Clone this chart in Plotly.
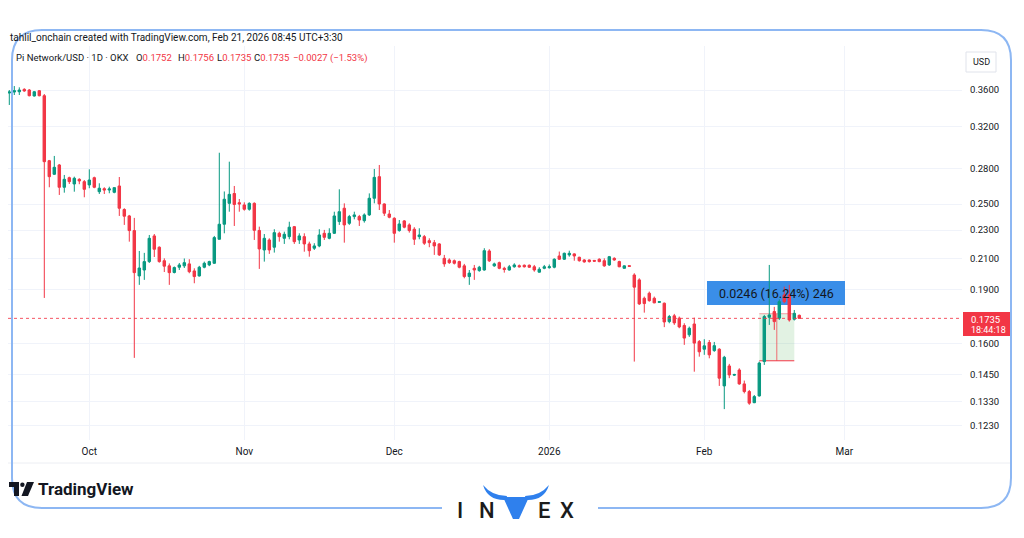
import math
import pandas as pd
import plotly.graph_objects as go

# ---------------- data ----------------
start_date = "2025-09-15"
open_ = [0.3566, 0.3577, 0.3580, 0.3608, 0.3600, 0.3532, 0.3592, 0.3535, 0.2872, 0.2750,
         0.2833, 0.2638, 0.2720, 0.2666, 0.2706, 0.2686, 0.2658, 0.2720, 0.2601, 0.2626,
         0.2615, 0.2596, 0.2649, 0.2457, 0.2407, 0.2297, 0.1987, 0.2025, 0.2080, 0.2258,
         0.2178, 0.2086, 0.2052, 0.2009, 0.2043, 0.2052, 0.2065, 0.2019, 0.1987, 0.2043,
         0.2058, 0.2069, 0.2234, 0.2344, 0.2506, 0.2586, 0.2511, 0.2493, 0.2459, 0.2506,
         0.2298, 0.2159, 0.2229, 0.2178, 0.2277, 0.2241, 0.2253, 0.2326, 0.2229, 0.2253,
         0.2201, 0.2171, 0.2187, 0.2277, 0.2241, 0.2277, 0.2364, 0.2467, 0.2351, 0.2402,
         0.2402, 0.2371, 0.2415, 0.2547, 0.2729, 0.2501, 0.2422, 0.2389, 0.2297, 0.2369,
         0.2339, 0.2307, 0.2253, 0.2253, 0.2224, 0.2210, 0.2201, 0.2102, 0.2091, 0.2086,
         0.2080, 0.2052, 0.1983, 0.2036, 0.2021, 0.2025, 0.2152, 0.2052, 0.2073, 0.2036,
         0.2025, 0.2046, 0.2053, 0.2056, 0.2056, 0.2046, 0.2011, 0.2036, 0.2040, 0.2043,
         0.2118, 0.2096, 0.2125, 0.2132, 0.2109, 0.2091, 0.2091, 0.2088, 0.2096, 0.2086,
         0.2058, 0.2102, 0.2080, 0.2036, 0.2053, 0.1993, 0.1962, 0.1850, 0.1880, 0.1850,
         0.1826, 0.1821, 0.1717, 0.1749, 0.1736, 0.1696, 0.1646, 0.1704, 0.1611, 0.1572,
         0.1606, 0.1565, 0.1572, 0.1398, 0.1490, 0.1447, 0.1471, 0.1407, 0.1373, 0.1325,
         0.1354, 0.1511, 0.1741, 0.1773, 0.1736, 0.1870, 0.1870, 0.1730, 0.1752]
high = [0.3600, 0.3646, 0.3631, 0.3620, 0.3611, 0.3589, 0.3600, 0.3554, 0.2879, 0.2916,
        0.2842, 0.2744, 0.2729, 0.2729, 0.2715, 0.2700, 0.2794, 0.2729, 0.2672, 0.2638,
        0.2643, 0.2638, 0.2726, 0.2467, 0.2415, 0.2392, 0.2152, 0.2139, 0.2265, 0.2272,
        0.2184, 0.2102, 0.2068, 0.2048, 0.2071, 0.2101, 0.2096, 0.2036, 0.2052, 0.2080,
        0.2086, 0.2258, 0.2946, 0.2603, 0.2863, 0.2649, 0.2541, 0.2514, 0.2514, 0.2514,
        0.2326, 0.2272, 0.2241, 0.2307, 0.2289, 0.2289, 0.2363, 0.2331, 0.2277, 0.2277,
        0.2217, 0.2206, 0.2307, 0.2302, 0.2314, 0.2440, 0.2621, 0.2506, 0.2415, 0.2440,
        0.2415, 0.2427, 0.2587, 0.2797, 0.2833, 0.2506, 0.2453, 0.2397, 0.2376, 0.2376,
        0.2351, 0.2322, 0.2314, 0.2265, 0.2241, 0.2229, 0.2206, 0.2125, 0.2102, 0.2094,
        0.2086, 0.2065, 0.2025, 0.2058, 0.2052, 0.2171, 0.2164, 0.2073, 0.2080, 0.2046,
        0.2058, 0.2069, 0.2061, 0.2061, 0.2061, 0.2058, 0.2043, 0.2058, 0.2061, 0.2102,
        0.2148, 0.2141, 0.2154, 0.2136, 0.2113, 0.2096, 0.2094, 0.2091, 0.2102, 0.2102,
        0.2118, 0.2109, 0.2086, 0.2055, 0.2055, 0.2004, 0.1972, 0.1860, 0.1890, 0.1860,
        0.1833, 0.1825, 0.1754, 0.1760, 0.1745, 0.1708, 0.1690, 0.1739, 0.1619, 0.1623,
        0.1619, 0.1609, 0.1577, 0.1539, 0.1500, 0.1453, 0.1479, 0.1422, 0.1380, 0.1358,
        0.1511, 0.1754, 0.2058, 0.1800, 0.1844, 0.1920, 0.1931, 0.1782, 0.1756]
low = [0.3432, 0.3543, 0.3543, 0.3580, 0.3528, 0.3526, 0.3528, 0.1852, 0.2638, 0.2744,
       0.2574, 0.2593, 0.2666, 0.2601, 0.2664, 0.2555, 0.2630, 0.2630, 0.2582, 0.2582,
       0.2588, 0.2588, 0.2407, 0.2339, 0.2217, 0.1529, 0.1931, 0.1962, 0.2071, 0.2111,
       0.2073, 0.2012, 0.1931, 0.2003, 0.2025, 0.2038, 0.2004, 0.1941, 0.1983, 0.2036,
       0.2050, 0.2065, 0.2233, 0.2277, 0.2440, 0.2331, 0.2440, 0.2448, 0.2448, 0.2229,
       0.2032, 0.2080, 0.2132, 0.2141, 0.2217, 0.2201, 0.2234, 0.2201, 0.2201, 0.2147,
       0.2113, 0.2159, 0.2178, 0.2229, 0.2234, 0.2272, 0.2339, 0.2210, 0.2339, 0.2381,
       0.2331, 0.2356, 0.2407, 0.2506, 0.2453, 0.2407, 0.2389, 0.2210, 0.2289, 0.2314,
       0.2282, 0.2194, 0.2234, 0.2194, 0.2178, 0.2125, 0.2118, 0.2046, 0.2065, 0.2061,
       0.2036, 0.1972, 0.1931, 0.1962, 0.2014, 0.2021, 0.2078, 0.2046, 0.2030, 0.2008,
       0.2021, 0.2040, 0.2041, 0.2041, 0.2038, 0.2014, 0.2008, 0.2030, 0.2034, 0.2036,
       0.2091, 0.2091, 0.2113, 0.2086, 0.2080, 0.2073, 0.2074, 0.2078, 0.2076, 0.2046,
       0.2052, 0.2086, 0.2043, 0.2034, 0.2045, 0.1511, 0.1811, 0.1767, 0.1830, 0.1821,
       0.1824, 0.1687, 0.1708, 0.1699, 0.1681, 0.1594, 0.1635, 0.1463, 0.1535, 0.1544,
       0.1527, 0.1559, 0.1398, 0.1298, 0.1433, 0.1443, 0.1403, 0.1365, 0.1316, 0.1323,
       0.1351, 0.1495, 0.1699, 0.1672, 0.1726, 0.1821, 0.1717, 0.1723, 0.1735]
close = [0.3577, 0.3592, 0.3600, 0.3589, 0.3535, 0.3580, 0.3535, 0.2863, 0.2729, 0.2812,
         0.2638, 0.2706, 0.2686, 0.2715, 0.2692, 0.2621, 0.2700, 0.2638, 0.2630, 0.2615,
         0.2624, 0.2635, 0.2467, 0.2405, 0.2297, 0.2008, 0.2038, 0.2080, 0.2241, 0.2164,
         0.2080, 0.2050, 0.2008, 0.2041, 0.2058, 0.2073, 0.2014, 0.1983, 0.2043, 0.2069,
         0.2080, 0.2246, 0.2344, 0.2539, 0.2579, 0.2497, 0.2501, 0.2459, 0.2506, 0.2299,
         0.2166, 0.2241, 0.2159, 0.2282, 0.2253, 0.2270, 0.2322, 0.2217, 0.2258, 0.2201,
         0.2154, 0.2187, 0.2265, 0.2248, 0.2277, 0.2407, 0.2440, 0.2339, 0.2402, 0.2415,
         0.2376, 0.2415, 0.2547, 0.2723, 0.2501, 0.2428, 0.2397, 0.2277, 0.2346, 0.2322,
         0.2297, 0.2234, 0.2265, 0.2206, 0.2210, 0.2187, 0.2125, 0.2065, 0.2073, 0.2069,
         0.2043, 0.1983, 0.2005, 0.2025, 0.2043, 0.2154, 0.2085, 0.2065, 0.2036, 0.2028,
         0.2046, 0.2058, 0.2046, 0.2046, 0.2043, 0.2025, 0.2030, 0.2046, 0.2046, 0.2096,
         0.2096, 0.2136, 0.2136, 0.2118, 0.2086, 0.2078, 0.2080, 0.2083, 0.2080, 0.2052,
         0.2113, 0.2091, 0.2046, 0.2052, 0.2049, 0.1917, 0.1817, 0.1819, 0.1836, 0.1823,
         0.1830, 0.1715, 0.1745, 0.1710, 0.1688, 0.1629, 0.1681, 0.1603, 0.1559, 0.1589,
         0.1544, 0.1590, 0.1433, 0.1532, 0.1448, 0.1450, 0.1407, 0.1373, 0.1323, 0.1351,
         0.1504, 0.1745, 0.1754, 0.1717, 0.1830, 0.1830, 0.1726, 0.1763, 0.1735]

price_ticks = [0.123, 0.133, 0.145, 0.16, 0.19, 0.21, 0.23, 0.25, 0.28, 0.32, 0.36]
price_tick_text = ["0.1230", "0.1330", "0.1450", "0.1600", "0.1900", "0.2100",
                   "0.2300", "0.2500", "0.2800", "0.3200", "0.3600"]
month_ticks = ["2025-10-01", "2025-11-01", "2025-12-01", "2026-01-01", "2026-02-01", "2026-03-01"]
month_labels = ["Oct", "Nov", "Dec", "2026", "Feb", "Mar"]

last_price = 0.1735
countdown = "18:44:18"
measure_low = 0.1515
measure_high = 0.1761
measure_start = "2026-02-12"
measure_end = "2026-02-19"
measure_mid = "2026-02-15 12:00"
measure_text = "0.0246 (16.24%) 246"

header_text = "tahlil_onchain created with TradingView.com, Feb 21, 2026 08:45 UTC+3:30"
symbol_text = "Pi Network/USD · 1D · OKX"
ohlc_items = [("O", "0.1752"), ("H", "0.1756"), ("L", "0.1735"), ("C", "0.1735")]
change_text = "−0.0027 (−1.53%)"

dates = pd.date_range(start_date, periods=len(open_), freq="D")

# ---------------- geometry helpers ----------------
PAGE_OFF = 8                      # the browser page adds an 8px body margin
W, H = 1024 - 2 * PAGE_OFF, 538 - 2 * PAGE_OFF
PL, PR, PT, PB = 8, 962, 46, 440  # plot area in page pixels
X_RANGE = [pd.Timestamp("2025-09-14 17:46"), pd.Timestamp("2026-03-24 13:00")]
Y_RANGE = [math.log10(0.1176), math.log10(0.4144)]

def fx(x):
    return (x - PL) / (PR - PL)

def fy(y):
    return (PB - y) / (PB - PT)

def px_to_date(x):
    return str(X_RANGE[0] + fx(x) * (X_RANGE[1] - X_RANGE[0]))

def py_to_price(y):
    return 10 ** (Y_RANGE[0] + fy(y) * (Y_RANGE[1] - Y_RANGE[0]))

def path(cmds):
    out = []
    for c in cmds:
        if isinstance(c, str):
            out.append(c)
        else:
            out.append(f"{fx(c[0]):.5f},{fy(c[1]):.5f}")
    return " ".join(out)

GREEN = "#089981"
RED = "#f23645"
TXT = "#131722"
GRID = "#f0f3fa"
FONT = "Roboto"

fig = go.Figure()
fig.add_trace(go.Candlestick(
    x=dates, open=open_, high=high, low=low, close=close,
    increasing=dict(line=dict(color=GREEN, width=1), fillcolor=GREEN),
    decreasing=dict(line=dict(color=RED, width=1), fillcolor=RED),
    whiskerwidth=0, hoverinfo="skip", showlegend=False,
))

shapes = []
# measurement tool (drawn under candles, above grid)
shapes.append(dict(type="rect", xref="x", yref="y", x0=measure_start, x1=measure_end,
                   y0=measure_low, y1=measure_high, layer="between",
                   fillcolor="rgba(76,175,80,0.16)", line=dict(width=0)))
shapes.append(dict(type="line", xref="x", yref="y", x0=measure_start, x1=measure_end,
                   y0=measure_low, y1=measure_low, layer="between",
                   line=dict(color=RED, width=1)))
shapes.append(dict(type="line", xref="x", yref="y", x0=measure_start, x1=measure_end,
                   y0=measure_high, y1=measure_high, layer="between",
                   line=dict(color="rgba(242,54,69,0.45)", width=1)))
shapes.append(dict(type="line", xref="x", yref="y", x0=measure_mid, x1=measure_mid,
                   y0=measure_low, y1=measure_high, layer="between",
                   line=dict(color="rgba(242,54,69,0.7)", width=1)))
# measurement label box (under candles, above grid)
shapes.append(dict(type="rect", xref="x", yref="y",
                   x0=px_to_date(707), x1=px_to_date(845),
                   y0=py_to_price(305), y1=py_to_price(281), layer="between",
                   fillcolor="#3a8ee8", line=dict(width=0)))
# last price dotted line
shapes.append(dict(type="line", xref="paper", yref="y", x0=0, x1=1,
                   y0=last_price, y1=last_price, layer="above",
                   line=dict(color="rgba(242,54,69,0.85)", width=1, dash="dot")))
# last price tag
shapes.append(dict(type="rect", xref="paper", yref="paper", x0=fx(963), x1=fx(1011),
                   y0=fy(336), y1=fy(312), layer="above",
                   fillcolor=RED, line=dict(width=0)))
# USD box
shapes.append(dict(type="rect", xref="paper", yref="paper", x0=fx(966), x1=fx(996),
                   y0=fy(72), y1=fy(52), layer="above",
                   fillcolor="white", line=dict(color="#e0e3eb", width=1)))
# bottom frame line of the chart
shapes.append(dict(type="line", xref="paper", yref="paper", x0=fx(8), x1=fx(1011),
                   y0=fy(463), y1=fy(463), layer="above",
                   line=dict(color="#eceef3", width=1)))
# decorative blue rounded border (with gap for logo)
shapes.append(dict(type="path", xref="paper", yref="paper", layer="above",
                   path=path(["M", (42, 30), "L", (981, 30), "Q", (1011, 30), (1011, 60),
                              "L", (1011, 478), "Q", (1011, 508), (981, 508), "L", (598, 508),
                              "M", (442, 508), "L", (42, 508), "Q", (12, 508), (12, 478),
                              "L", (12, 60), "Q", (12, 30), (42, 30)]),
                   fillcolor="rgba(0,0,0,0)", line=dict(color="#8db7f3", width=2)))
# TradingView icon
shapes.append(dict(type="path", xref="paper", yref="paper", layer="above",
                   path=path(["M", (9, 482), "L", (19, 482), "L", (19, 496), "L", (14, 496),
                              "L", (14, 487), "L", (9, 487), "Z"]),
                   fillcolor=TXT, line=dict(width=0)))
shapes.append(dict(type="circle", xref="paper", yref="paper", layer="above",
                   x0=fx(20.2), x1=fx(24.6), y0=fy(487), y1=fy(482.6),
                   fillcolor=TXT, line=dict(width=0)))
shapes.append(dict(type="path", xref="paper", yref="paper", layer="above",
                   path=path(["M", (27, 482), "L", (34, 482), "L", (28, 496), "L", (21.5, 496), "Z"]),
                   fillcolor=TXT, line=dict(width=0)))
# INVEX bull "V"
BLUE = "#2f80ed"
shapes.append(dict(type="path", xref="paper", yref="paper", layer="above",
                   path=path(["M", (503, 497), "L", (529, 497), "L", (519, 519), "L", (513, 519), "Z"]),
                   fillcolor=BLUE, line=dict(width=0)))
shapes.append(dict(type="path", xref="paper", yref="paper", layer="above",
                   path=path(["M", (483, 485), "Q", (488, 501), (506, 500), "L", (507, 496),
                              "Q", (492, 496), (483, 485), "Z"]),
                   fillcolor=BLUE, line=dict(width=0)))
shapes.append(dict(type="path", xref="paper", yref="paper", layer="above",
                   path=path(["M", (549, 485), "Q", (544, 501), (526, 500), "L", (525, 496),
                              "Q", (540, 496), (549, 485), "Z"]),
                   fillcolor=BLUE, line=dict(width=0)))

ann = []

def text(x, y, s, size=11, color=TXT, anchor="left", weight="normal", family=FONT):
    ann.append(dict(xref="paper", yref="paper", x=fx(x), y=fy(y), text=s, showarrow=False,
                    xanchor=anchor, yanchor="middle",
                    font=dict(size=size, color=color, family=family, weight=weight)))

text(8, 38, header_text, size=10)
text(14, 58, symbol_text, size=9.5)
ox = [134, 176, 215, 252]
for (k, v), x in zip(ohlc_items, ox):
    text(x, 58, f"{k}<span style='color:{RED}'>{v}</span>", size=9.5)
text(291, 58, f"<span style='color:{RED}'>{change_text}</span>", size=9.5)
text(981, 62, "USD", size=9, anchor="center")
text(969, 319, f"{last_price:.4f}", size=9.5, color="white")
text(969, 330, countdown, size=9, color="white")
text(776, 293, measure_text, size=12.5, anchor="center")
text(36, 489, "TradingView", size=17, weight="bold")
for ch, x in [("I", 460), ("N", 487), ("E", 544), ("X", 567)]:
    text(x, 510, ch, size=22, anchor="center", color="#1b1b1b", weight=500)

fig.update_layout(
    width=W, height=H,
    margin=dict(l=PL - PAGE_OFF, r=(W + PAGE_OFF) - PR, t=PT - PAGE_OFF,
                b=(H + PAGE_OFF) - PB, pad=0, autoexpand=False),
    paper_bgcolor="white", plot_bgcolor="white",
    showlegend=False,
    shapes=shapes, annotations=ann,
    font=dict(family=FONT, color=TXT, size=11),
    xaxis=dict(type="date", range=[str(X_RANGE[0]), str(X_RANGE[1])],
               tickvals=month_ticks, ticktext=month_labels,
               showgrid=True, gridcolor=GRID, gridwidth=1, zeroline=False,
               showline=False, ticks="outside", ticklen=2, tickcolor="rgba(0,0,0,0)",
               tickfont=dict(size=10, color=TXT, family=FONT), automargin=False,
               rangeslider=dict(visible=False), fixedrange=True),
    yaxis=dict(type="log", side="right", range=Y_RANGE,
               tickvals=price_ticks, ticktext=price_tick_text,
               showgrid=True, gridcolor=GRID, gridwidth=1, zeroline=False,
               showline=False, ticks="outside", ticklen=5, tickcolor="rgba(0,0,0,0)",
               tickfont=dict(size=9.5, color=TXT, family=FONT), automargin=False,
               fixedrange=True),
)

fig.write_html("out.html", config={"displayModeBar": False})
